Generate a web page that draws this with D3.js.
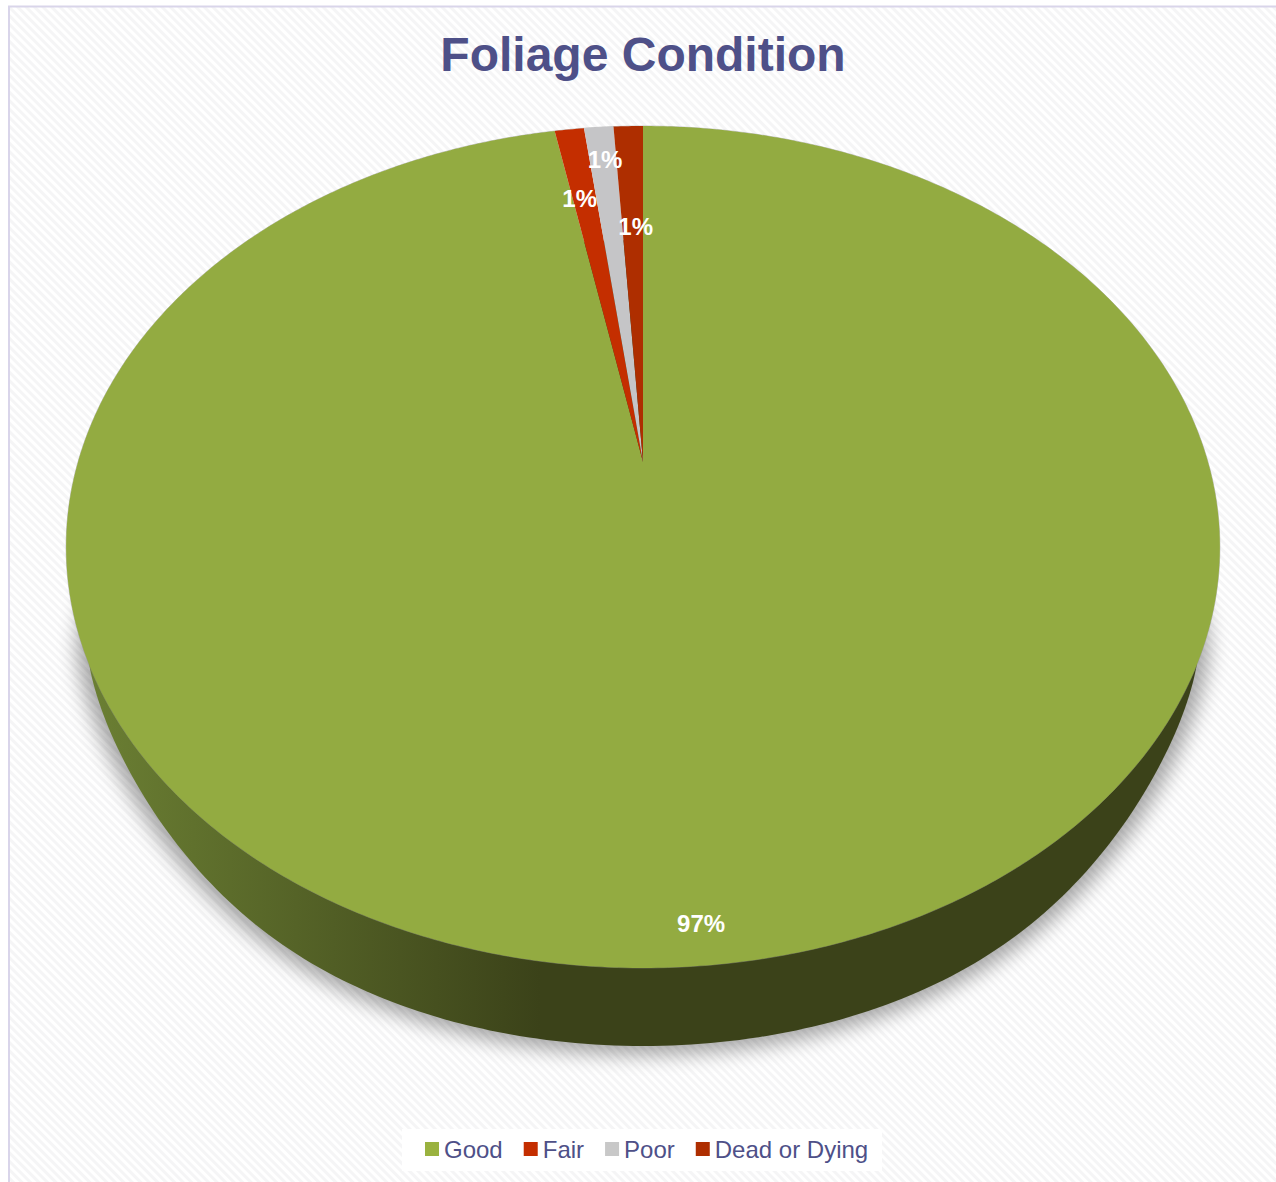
<!DOCTYPE html>
<html>
<head>
<meta charset="utf-8">
<title>Foliage Condition</title>
<script src="https://cdn.jsdelivr.net/npm/d3@7"></script>
<style>
    html, body { margin: 0; padding: 0; background: #fff; }
    svg { display: block; }
    text { font-family: "Liberation Sans", Arial, sans-serif; }
</style>
</head>
<body>
<div id="chart"></div>
<script>
const categories = ["Good", "Fair", "Poor", "Dead or Dying"];
const shares = [97, 1, 1, 1];
const sliceColors = ["#93ab41", "#c42e00", "#c5c5c7", "#ae2e00"];
const legendColors = ["#9ab23f", "#c42e00", "#c8c8c8", "#ae2e00"];
// where each percent label sits: depth (0 = apex, 1 = rim) and turn off the slice middle, in degrees
const labelDepth = [0.933, 0.761, 0.885, 0.662];
const labelTurn = [0.26, -0.77, 0.27, 0.52];

const width = 1276, height = 1182;
const textColor = "#4e5088";

// the pie is tilted with perspective, so the apex is not the centre of the ellipse
const apex = {x: 643, y: 462};
const tilt = 0.2019, spanX = 565, spanY = 403.8;
const project = (angle, r) => {
    const u = r * Math.sin(angle), v = -r * Math.cos(angle);
    const w = 1 - tilt * v;
    return [apex.x + spanX * u / w, apex.y + spanY * v / w];
};

const svg = d3.select("#chart").append("svg")
    .attr("width", width)
    .attr("height", height);

const defs = svg.append("defs");

const stripes = defs.append("pattern")
    .attr("id", "stripes")
    .attr("patternUnits", "userSpaceOnUse")
    .attr("width", 6)
    .attr("height", 6)
    .attr("patternTransform", "rotate(-45)");
stripes.append("rect").attr("width", 6).attr("height", 6).attr("fill", "#fff");
stripes.append("rect").attr("width", 3).attr("height", 6).attr("fill", "#f5f5f6");

const wallFill = defs.append("linearGradient")
    .attr("id", "wall")
    .attr("gradientUnits", "userSpaceOnUse")
    .attr("x1", 90).attr("x2", 540)
    .attr("y1", 0).attr("y2", 0);
wallFill.append("stop").attr("offset", 0).attr("stop-color", "#6b7f33");
wallFill.append("stop").attr("offset", 1).attr("stop-color", "#3b4219");

defs.append("filter")
    .attr("id", "blur")
    .attr("x", "-10%").attr("y", "-10%")
    .attr("width", "120%").attr("height", "120%")
    .append("feGaussianBlur")
    .attr("stdDeviation", 10);

// background and frame
svg.append("rect")
    .attr("x", 8).attr("y", 6)
    .attr("width", width - 8).attr("height", height - 6)
    .attr("fill", "url(#stripes)");
svg.append("path")
    .attr("d", `M9,${height}V6.5H${width}`)
    .attr("fill", "none")
    .attr("stroke", "#d9d5ea")
    .attr("stroke-width", 2);

// title
svg.append("text")
    .attr("x", 643)
    .attr("y", 71)
    .attr("text-anchor", "middle")
    .attr("font-size", 48)
    .attr("font-weight", "bold")
    .attr("fill", textColor)
    .text("Foliage Condition");

// base of the disc: shadow first, then the side wall
const steps = d3.range(0, 2 * Math.PI, Math.PI / 180);
const line = d3.line().curve(d3.curveLinearClosed);

// the wall's outline gets pointier towards its ends than a true ellipse
const wallPoint = (a, rx, ry) => {
    const s = Math.sin(a), c = Math.cos(a);
    const e = 2 / (2 - 0.3 * Math.pow(s, 4));
    return [643 + rx * Math.sign(s) * Math.pow(Math.abs(s), e),
            643 - ry * Math.sign(c) * Math.pow(Math.abs(c), e)];
};

svg.append("path")
    .attr("d", line(steps.map(a => wallPoint(a, 566, 408))))
    .attr("transform", "translate(0,4)")
    .attr("fill", "#000")
    .attr("opacity", 0.34)
    .attr("filter", "url(#blur)");
svg.append("path")
    .attr("d", line(steps.map(a => wallPoint(a, 556, 403))))
    .attr("fill", "url(#wall)");

// faint outline round the top face
svg.append("path")
    .attr("d", line(steps.map(a => project(a, 1))))
    .attr("fill", "none")
    .attr("stroke", "#8f8f8f")
    .attr("stroke-opacity", 0.5)
    .attr("stroke-width", 1);

// slices on top
const pie = d3.pie().sort(null).value(d => d);
const arcs = pie(shares);
const slicePath = d => {
    const n = Math.max(2, Math.ceil((d.endAngle - d.startAngle) / (Math.PI / 360)));
    const rim = d3.range(n + 1).map(i => project(d.startAngle + (d.endAngle - d.startAngle) * i / n, 1));
    return line([[apex.x, apex.y], ...rim]);
};

svg.append("g").selectAll("path")
    .data(arcs)
    .join("path")
    .attr("d", slicePath)
    .attr("fill", (d, i) => sliceColors[i]);

// percent labels
svg.append("g").selectAll("text")
    .data(arcs)
    .join("text")
    .attr("transform", (d, i) => {
        const angle = (d.startAngle + d.endAngle) / 2 + labelTurn[i] * Math.PI / 180;
        const p = project(angle, labelDepth[i]);
        return `translate(${p[0]},${p[1]})`;
    })
    .attr("text-anchor", "middle")
    .attr("dy", "0.35em")
    .attr("font-size", 24)
    .attr("font-weight", "bold")
    .attr("fill", "#fff")
    .text(d => `${d.value}%`);

// legend, laid out from the measured text widths
svg.append("rect")
    .attr("x", 402).attr("y", 1129)
    .attr("width", 480).attr("height", 42)
    .attr("fill", "#fff");
const legend = svg.append("g");
let cursor = 425;
categories.forEach((name, i) => {
    legend.append("rect")
        .attr("x", cursor).attr("y", 1142)
        .attr("width", 14).attr("height", 14)
        .attr("fill", legendColors[i]);
    const label = legend.append("text")
        .attr("x", cursor + 19)
        .attr("y", 1158)
        .attr("font-size", 24)
        .attr("fill", textColor)
        .text(name);
    cursor += 19 + label.node().getComputedTextLength() + 21;
});
</script>
</body>
</html>
